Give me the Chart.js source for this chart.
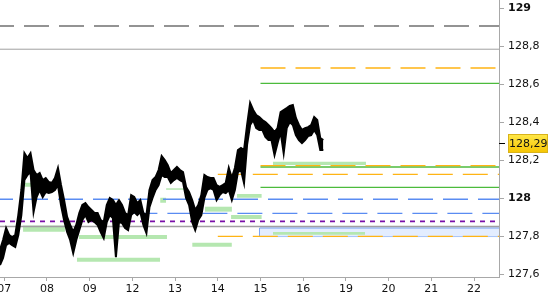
<!DOCTYPE html>
<html><head><meta charset="utf-8">
<script src="https://cdn.jsdelivr.net/npm/chart.js@4/dist/chart.umd.min.js"></script>
<style>html,body{margin:0;padding:0;background:#fff}#wrap{width:550px;height:300px}</style>
</head><body><div id="wrap"><canvas id="c" width="550" height="300"></canvas></div>
<script>
// ---- data ----
const days = ['07','08','09','12','13','14','15','16','19','20','21','22'];
const dayTicks = [0,1,2,3,4,5,6,7,8,9,10,11];
const xMin = -0.1, xMax = 11.585;
const yMin = 127.586, yMax = 129.044;
const yTicks = [127.6, 127.8, 128, 128.2, 128.4, 128.6, 128.8, 129];
const lastPrice = 128.29;
const priceStart = -0.1, priceStep = 1/14;
const priceHigh = [127.728,127.781,127.844,127.807,127.796,127.807,127.912,128.044,128.238,128.212,
128.238,128.149,128.123,128.133,128.096,128.107,128.086,128.081,128.107,128.160,
128.070,127.991,127.902,127.860,127.823,127.860,127.923,127.965,127.975,127.954,
127.939,127.923,127.923,127.886,127.875,127.965,128.002,127.991,127.965,127.991,
127.965,127.923,127.912,128.017,128.007,127.975,127.991,127.923,127.912,128.044,
128.096,128.112,128.149,128.223,128.202,128.175,128.133,128.149,128.165,128.149,
128.138,128.060,128.033,127.991,127.939,127.965,128.017,128.123,128.112,128.107,
128.107,128.070,128.060,128.070,128.081,128.160,128.107,128.160,128.254,128.265,
128.254,128.386,128.502,128.465,128.438,128.428,128.412,128.402,128.386,128.370,
128.349,128.370,128.454,128.465,128.475,128.486,128.491,128.423,128.386,128.360,
128.370,128.375,128.386,128.428,128.412,128.317,128.307];
const priceLow = [127.649,127.686,127.754,127.765,127.754,127.744,127.807,127.912,128.096,128.123,
128.138,127.928,128.007,128.044,128.007,128.033,128.028,128.033,128.044,128.070,
127.965,127.886,127.823,127.781,127.712,127.781,127.833,127.886,127.912,127.875,
127.886,127.875,127.860,127.823,127.791,127.875,127.912,127.896,127.691,127.875,
127.870,127.844,127.833,127.912,127.928,127.912,127.928,127.860,127.817,127.954,
128.002,128.044,128.070,128.123,128.112,128.112,128.081,128.096,128.107,128.096,
128.086,128.002,127.965,127.875,127.833,127.886,127.912,128.002,128.044,128.054,
128.044,127.991,128.017,128.033,128.028,128.044,127.991,128.044,128.138,128.149,
128.081,128.281,128.386,128.412,128.370,128.360,128.360,128.323,128.307,128.307,
128.228,128.291,128.349,128.238,128.370,128.402,128.386,128.333,128.307,128.291,
128.307,128.328,128.333,128.360,128.333,128.254,128.254];

// horizontal levels
const levelValue = [128.907, 128.785, 128.686, 128.605, 128.172, 128.165, 128.126, 128.058, 127.995, 127.921, 127.879, 127.852, 127.800];
const levelFrom  = [-0.1, -0.1, 6, 6, 6, 6, 5, 6, -0.1, 3, -0.1, -0.1, 5];
const levelKind  = ['grayDash','gray','orangeDash','green','orangeDash','green','orangeDash','green','blueDashFull','blueDash','purpleDash','gray2','orangeDash'];

// green zones
const zoneHigh = [128.082, 127.857, 127.807, 127.687, 128.053, 128.003, 127.956, 127.766, 128.023, 127.912, 128.193, 127.823];
const zoneLow  = [128.061, 127.824, 127.786, 127.666, 128.045, 127.977, 127.930, 127.745, 128.003, 127.891, 128.175, 127.808];
const zoneFrom = [0.485, 0.44, 1.75, 1.70, 3.79, 3.65, 4.70, 4.40, 5.45, 5.31, 6.29, 6.29];
const zoneTo   = [1.07, 1.42, 3.81, 3.65, 4.23, 3.79, 5.33, 5.33, 6.03, 6.03, 8.47, 8.45];

// blue range box
const boxHigh = 127.844, boxLow = 127.799, boxFrom = 5.98;

// ---- styles ----
const levelStyles = {
  grayDash:    {color:'#707070', width:1.5, dash:[25,10], offset:11},
  gray:        {color:'#a0a0a0', width:1,   dash:[],      offset:0},
  gray2:       {color:'#a0a0a0', width:1.5, dash:[],      offset:0},
  orangeDash:  {color:'#ffb414', width:1.4, dash:[25,10], offset:0},
  green:       {color:'#4cbb3c', width:1.3, dash:[],      offset:0},
  blueDashFull:{color:'#5a8cf2', width:1.4, dash:[25,10], offset:12},
  blueDash:    {color:'#5a8cf2', width:1.4, dash:[25,10], offset:0},
  purpleDash:  {color:'#7a10a8', width:1.6, dash:[5,5],   offset:0}
};

const highPath = priceHigh.map((h, i) => ({x: priceStart + i * priceStep, y: h}));
const lowPath  = priceLow.map((l, i) => ({x: priceStart + i * priceStep, y: l}));

const datasets = [];
datasets.push({data: highPath, borderColor:'#000', borderWidth:2, backgroundColor:'#000', pointRadius:0, tension:0, fill:'+1'});
datasets.push({data: lowPath, borderColor:'#000', borderWidth:2, pointRadius:0, tension:0, fill:false});

levelValue.forEach((v, i) => {
  const s = levelStyles[levelKind[i]];
  datasets.push({data:[{x:levelFrom[i], y:v},{x:xMax, y:v}], borderColor:s.color, borderWidth:s.width,
    borderDash:s.dash, borderDashOffset:s.offset, pointRadius:0, fill:false, borderCapStyle:'butt'});
});

zoneHigh.forEach((h, i) => {
  datasets.push({data:[{x:zoneFrom[i], y:h},{x:zoneTo[i], y:h}], borderWidth:0, borderColor:'rgba(0,0,0,0)',
    backgroundColor:'#b5e7b0', pointRadius:0, fill:'+1'});
  datasets.push({data:[{x:zoneFrom[i], y:zoneLow[i]},{x:zoneTo[i], y:zoneLow[i]}], borderWidth:0, borderColor:'rgba(0,0,0,0)',
    pointRadius:0, fill:false});
});

datasets.push({data:[{x:boxFrom, y:boxHigh},{x:xMax, y:boxHigh}], borderColor:'#6f9cf0', borderWidth:1,
  backgroundColor:'#e3edff', pointRadius:0, fill:'+1'});
datasets.push({data:[{x:boxFrom, y:boxLow},{x:xMax, y:boxLow}], borderColor:'#6f9cf0', borderWidth:1, pointRadius:0, fill:false});
datasets.push({data:[{x:boxFrom, y:boxHigh},{x:boxFrom, y:boxLow}], borderColor:'#6f9cf0', borderWidth:1, pointRadius:0, fill:false});

function fmt(v){
  const r = Math.round(v*10)/10;
  if (Math.abs(r - Math.round(r)) < 1e-6) return String(Math.round(r));
  return r.toFixed(1).replace('.', ',');
}
function fmt2(v){ return v.toFixed(2).replace('.', ','); }

const priceTag = {
  id:'priceTag',
  afterDraw(chart){
    const ys = chart.scales.y;
    const ctx = chart.ctx;
    const py = Math.round(ys.getPixelForValue(lastPrice));
    ctx.save();
    ctx.strokeStyle = '#000'; ctx.lineWidth = 1;
    ctx.beginPath(); ctx.moveTo(ys.left, py + 0.5); ctx.lineTo(ys.left + 6, py + 0.5); ctx.stroke();
    const bx = ys.left + 9, bw = 40, bh = 19, by = py - 9;
    const g = ctx.createLinearGradient(0, by, 0, by + bh);
    g.addColorStop(0, '#ffe84a'); g.addColorStop(1, '#f5c400');
    ctx.fillStyle = g; ctx.fillRect(bx, by, bw, bh);
    ctx.strokeStyle = '#d8b21a'; ctx.strokeRect(bx + 0.5, by + 0.5, bw - 1, bh - 1);
    ctx.fillStyle = '#111'; ctx.font = '11px "DejaVu Sans"';
    ctx.textBaseline = 'middle'; ctx.textAlign = 'left';
    ctx.fillText(fmt2(lastPrice), bx + 1, py + 1);
    ctx.restore();
  }
};

new Chart(document.getElementById('c'), {
  type:'line',
  data:{datasets},
  plugins:[priceTag],
  options:{
    responsive:false, animation:false, devicePixelRatio:1,
    layout:{padding:0},
    plugins:{legend:{display:false}, tooltip:{enabled:false}},
    scales:{
      x:{type:'linear', position:'bottom', min:xMin, max:xMax,
        afterBuildTicks: s => { s.ticks = dayTicks.map(v => ({value:v})); },
        afterFit: s => { s.height = 23; s.paddingLeft = 0; s.paddingRight = 0; },
        grid:{drawOnChartArea:false, drawTicks:true, tickLength:4, color:'#a8a8a8'},
        border:{color:'#a8a8a8'},
        ticks:{callback: v => days[v], autoSkip:false, maxRotation:0, padding:2, color:'#111',
          font:{family:'DejaVu Sans', size:11}}
      },
      y:{type:'linear', position:'right', min:yMin, max:yMax,
        afterBuildTicks: s => { s.ticks = yTicks.map(v => ({value:v})); },
        afterFit: s => { s.width = 51; s.paddingTop = 0; s.paddingBottom = 0; },
        grid:{drawOnChartArea:false, drawTicks:true, tickLength:5, color:'#a8a8a8'},
        border:{color:'#a8a8a8'},
        ticks:{padding:4, color:'#111', callback: v => fmt(v),
          font: ctx => ({family:'DejaVu Sans', size:11,
            weight: (ctx.tick && Math.abs(ctx.tick.value - Math.round(ctx.tick.value)) < 1e-6) ? 'bold' : 'normal'})}
      }
    }
  }
});
</script>
</body></html>
